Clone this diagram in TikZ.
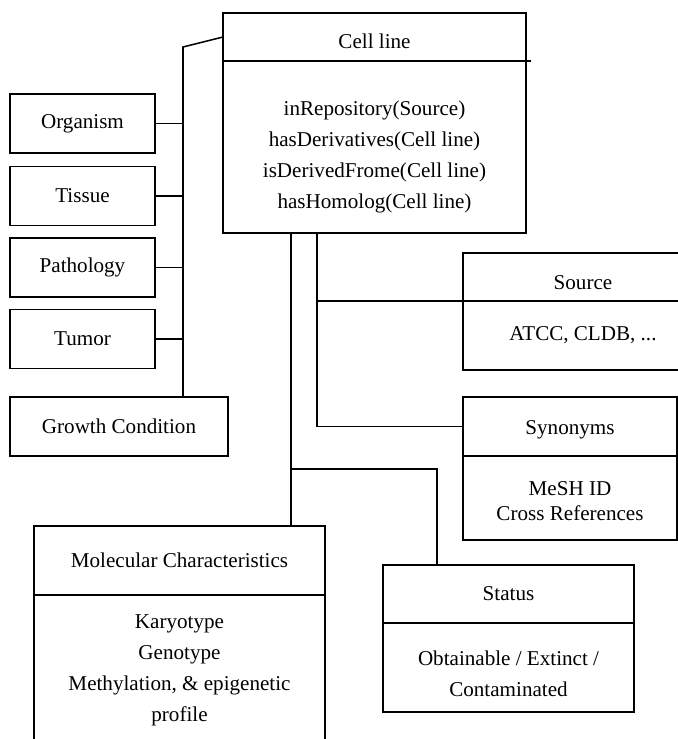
\documentclass[tikz,border=0pt]{standalone}
\usepackage{fontspec}
\setmainfont{Liberation Serif}
\usetikzlibrary{positioning}

% invisible strut that pushes a node's text a little down
\newcommand{\boxgap}[1]{\rule{0pt}{#1}}

\tikzset{
  box/.style={draw, line width=1.1pt, inner sep=0pt, outer sep=0pt, align=center,
    font=\fontsize{15}{22}\selectfont},
  link/.style={line width=1.1pt},
}

\begin{document}
\begin{tikzpicture}[x=0.025cm, y=-0.025cm]
  \clip (0,0) rectangle (678,739);
  % cell line
  \node[box, minimum width=7.575cm, minimum height=1.2cm] (cellhead) at (374.5,37) {\boxgap{17pt}Cell line};
  \node[box, minimum width=7.575cm, minimum height=4.3cm, below=0pt of cellhead] (cellbody)
    {\boxgap{24.5pt}inRepository(Source)\\hasDerivatives(Cell line)\\isDerivedFrome(Cell line)\\hasHomolog(Cell line)};
  % left column
  \node[box, minimum width=3.625cm, minimum height=1.475cm] (organism) at (82.5,123.5) {Organism};
  \node[box, minimum width=3.625cm, minimum height=1.475cm] (tissue) at (82.5,196) {Tissue};
  \node[box, minimum width=3.625cm, minimum height=1.475cm] (pathology) at (82.5,267.5) {Pathology};
  \node[box, minimum width=3.625cm, minimum height=1.475cm] (tumor) at (82.5,339) {Tumor};
  \node[box, minimum width=5.45cm, minimum height=1.475cm] (growth) at (119,426.5) {Growth Condition};
  % right column
  \node[box, minimum width=6cm, minimum height=1.2cm] (srchead) at (583,277) {\boxgap{18pt}Source};
  \node[box, minimum width=6cm, minimum height=1.725cm, below=0pt of srchead] (srcbody) {ATCC, CLDB, ...};
  \node[box, minimum width=5.35cm, minimum height=1.475cm] (synhead) at (570,426.5) {\boxgap{14pt}Synonyms};
  \node[box, minimum width=5.35cm, minimum height=2.1cm, below=0pt of synhead,
    font=\fontsize{15}{18}\selectfont] (synbody) {\boxgap{14pt}MeSH ID\\Cross References};
  % bottom
  \node[box, minimum width=7.275cm, minimum height=1.725cm] (molhead) at (179.5,560.5) {Molecular Characteristics};
  \node[box, minimum width=7.275cm, minimum height=3.75cm, below=0pt of molhead] (molbody)
    {Karyotype\\Genotype\\Methylation, \& epigenetic\\profile};
  \node[box, minimum width=6.275cm, minimum height=1.45cm] (stathead) at (508.5,594) {Status};
  \node[box, minimum width=6.275cm, minimum height=2.225cm, below=0pt of stathead] (statbody)
    {\boxgap{19.5pt}Obtainable / Extinct /\\Contaminated};

  % left trunk
  \coordinate (trunk) at (183,47);
  \draw[link] (cellhead.west) -- (trunk) -- (trunk |- growth.north);
  \draw[link] (organism.east) -- (organism.east -| trunk);
  \draw[link] (tissue.east) -- (tissue.east -| trunk);
  \draw[link] (pathology.east) -- (pathology.east -| trunk);
  \draw[link] (tumor.east) -- (tumor.east -| trunk);
  \draw[link] (cellhead.south east) -- ++(5,0);

  % molecular and status
  \coordinate (molbus) at (291,233);
  \coordinate (statbend) at (437,469);
  \draw[link] (molbus) -- (molbus |- molhead.north);
  \draw[link] (molbus |- statbend) -- (statbend) -- (statbend |- stathead.north);

  % source and synonyms
  \coordinate (srcbus) at (317,233);
  \coordinate (srcend) at (317,427);
  \draw[link] (srcbus) -- (srcend);
  \draw[link] (srcbus |- srchead.south west) -- (srchead.south west) -- ++(14,0);
  \draw[link] (srcbus |- synhead.west) -- (synhead.west);
\end{tikzpicture}
\end{document}
